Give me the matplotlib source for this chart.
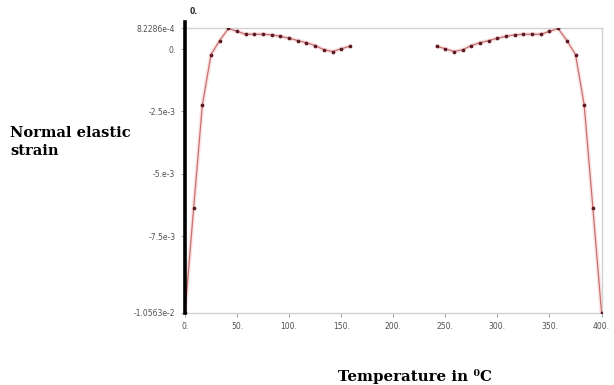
import matplotlib
matplotlib.use("Agg")
import matplotlib.pyplot as plt
import numpy as np

# ---- data ----
temp_left = [0, 8.33, 16.67, 25, 33.33, 41.67, 50, 58.33, 66.67, 75, 83.33,
             91.67, 100, 108.33, 116.67, 125, 133.33, 141.67, 150, 158.33]
strain_left = [-10.563e-3, -6.36e-3, -2.24e-3, -0.22e-3, 0.34e-3, 0.82286e-3,
               0.71e-3, 0.59e-3, 0.59e-3, 0.59e-3, 0.57e-3, 0.51e-3, 0.43e-3,
               0.34e-3, 0.25e-3, 0.14e-3, -0.03e-3, -0.10e-3, 0.01e-3, 0.11e-3]
temp_right = [241.67, 250, 258.33, 266.67, 275, 283.33, 291.67, 300, 308.33,
              316.67, 325, 333.33, 341.67, 350, 358.33, 366.67, 375, 383.33,
              391.67, 400]
strain_right = [0.11e-3, 0.01e-3, -0.10e-3, -0.03e-3, 0.14e-3, 0.25e-3,
                0.34e-3, 0.43e-3, 0.51e-3, 0.57e-3, 0.59e-3, 0.59e-3, 0.59e-3,
                0.71e-3, 0.82286e-3, 0.34e-3, -0.22e-3, -2.24e-3, -6.36e-3,
                -10.563e-3]

x_ticks = [0, 50, 100, 150, 200, 250, 300, 350, 400]
x_tick_labels = ["0.", "50.", "100.", "150.", "200.", "250.", "300.", "350.", "400."]
y_ticks = [8.2286e-4, 0.0, -2.5e-3, -5e-3, -7.5e-3, -1.0563e-2]
y_tick_labels = ["8.2286e-4", "0.", "-2.5e-3", "-5.e-3", "-7.5e-3", "-1.0563e-2"]

fig = plt.figure(figsize=(6.14, 3.85), dpi=100)
ax = fig.add_axes([0.3013, 0.1883, 0.6784, 0.7377])

ax.set_xlim(0, 400)
ax.set_ylim(-1.0563e-2, 8.2286e-4)

for tx, sy in [(temp_left, strain_left), (temp_right, strain_right)]:
    ax.plot(tx, sy, color="#f6c4c4", lw=3.0, alpha=0.45, solid_capstyle="round", zorder=2)
    ax.plot(tx, sy, color="#c87070", lw=0.9, zorder=3,
            marker="o", markersize=1.7, markerfacecolor="#5e1a25",
            markeredgecolor="#5e1a25")

for side in ["top", "right", "bottom"]:
    ax.spines[side].set_color("#d2d2d2")
    ax.spines[side].set_linewidth(1.0)
ax.spines["left"].set_visible(False)

# thick black cursor line at x = 0
ax.axvline(0, ymin=0.0, ymax=1.023, color="black", lw=2.6, clip_on=False, zorder=4)
ax.text(0.01, 1.045, "0.", transform=ax.transAxes, fontsize=5.5,
        fontweight="bold", color="#222222", ha="left", va="bottom")

ax.set_xticks(x_ticks)
ax.set_xticklabels(x_tick_labels)
ax.set_yticks(y_ticks)
ax.set_yticklabels(y_tick_labels)
ax.tick_params(axis="both", colors="#a0a0a0", labelcolor="#505050",
               labelsize=5.5, length=3, width=0.7, pad=4)

fig.text(10 / 614, 1 - 155 / 385, "Normal elastic\nstrain",
         fontsize=10.5, fontweight="bold", family=["DejaVu Serif", "DejaVu Sans"],
         ha="left", va="baseline", linespacing=1.35)
fig.text(415 / 614, 1 - 381 / 385, "Temperature in \u2070C",
         fontsize=10.8, fontweight="bold", family=["DejaVu Serif", "DejaVu Sans"],
         ha="center", va="baseline")

fig.savefig("out.png", dpi=100, facecolor="white")
